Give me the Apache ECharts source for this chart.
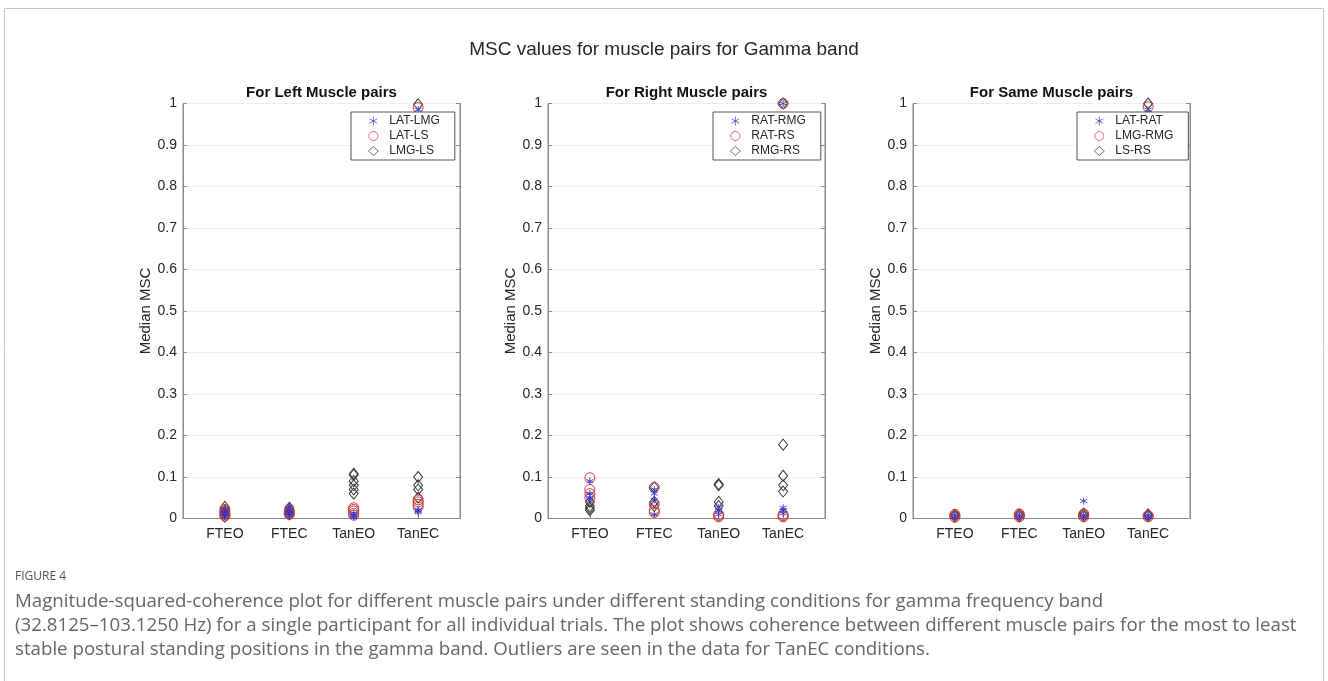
<!DOCTYPE html>
<html>
<head>
<meta charset="utf-8">
<script src="https://cdn.jsdelivr.net/npm/echarts@6/dist/echarts.min.js"></script>
<style>
html,body{margin:0;padding:0;background:#fff;}
#c{width:1328px;height:681px;}
</style>
</head>
<body>
<div id="c"></div>
<script>
// ---------------- DATA ----------------
const CATEGORIES = ['FTEO', 'FTEC', 'TanEO', 'TanEC'];
const Y_TICKS = [0, 0.1, 0.2, 0.3, 0.4, 0.5, 0.6, 0.7, 0.8, 0.9, 1];
const MAIN_TITLE = 'MSC values for muscle pairs for Gamma band';
const PANEL_TITLES = ['For Left Muscle pairs', 'For Right Muscle pairs', 'For Same Muscle pairs'];
const PANEL_SERIES_NAMES = [
  ['LAT-LMG', 'LAT-LS', 'LMG-LS'],
  ['RAT-RMG', 'RAT-RS', 'RMG-RS'],
  ['LAT-RAT', 'LMG-RMG', 'LS-RS']
];
// values per category (FTEO, FTEC, TanEO, TanEC), one list of trials each
const left_LAT_LMG = [[0.005, 0.01, 0.015, 0.02, 0.012], [0.008, 0.015, 0.02, 0.028, 0.012], [0.004, 0.008, 0.012, 0.006], [0.015, 0.02, 0.018, 0.985]];
const left_LAT_LS  = [[0.006, 0.012, 0.018, 0.022, 0.01], [0.01, 0.014, 0.018, 0.012], [0.012, 0.018, 0.022, 0.026, 0.008], [0.028, 0.034, 0.04, 0.045, 0.99]];
const left_LMG_LS  = [[0.004, 0.012, 0.02, 0.028, 0.016], [0.01, 0.016, 0.022, 0.026], [0.06, 0.07, 0.08, 0.09, 0.105, 0.108], [0.05, 0.07, 0.08, 0.1, 0.998]];

const right_RAT_RMG = [[0.045, 0.05, 0.06, 0.09], [0.01, 0.045, 0.06, 0.07], [0.01, 0.02, 0.026], [0.012, 0.02, 0.026, 1.0]];
const right_RAT_RS  = [[0.05, 0.06, 0.07, 0.098], [0.015, 0.02, 0.035, 0.075], [0.004, 0.007, 0.01], [0.004, 0.007, 0.01, 1.0]];
const right_RMG_RS  = [[0.02, 0.025, 0.03, 0.04], [0.03, 0.04, 0.075], [0.03, 0.04, 0.08, 0.083], [0.065, 0.08, 0.103, 0.178, 1.0]];

const same_LAT_RAT = [[0.004, 0.008], [0.004, 0.008], [0.004, 0.008, 0.042], [0.004, 0.008, 0.985]];
const same_LMG_RMG = [[0.003, 0.007, 0.01], [0.004, 0.008, 0.011], [0.004, 0.008, 0.011], [0.004, 0.007, 0.992]];
const same_LS_RS   = [[0.005, 0.009], [0.005, 0.01], [0.006, 0.012], [0.006, 0.01, 1.0]];

const CAPTION_LABEL = 'FIGURE 4';
const CAPTION_LINES = [
  'Magnitude-squared-coherence plot for different muscle pairs under different standing conditions for gamma frequency band',
  '(32.8125\u2013103.1250 Hz) for a single participant for all individual trials. The plot shows coherence between different muscle pairs for the most to least',
  'stable postural standing positions in the gamma band. Outliers are seen in the data for TanEC conditions.'
];
// ---------------- END DATA ----------------

const PANEL_DATA = [
  [left_LAT_LMG, left_LAT_LS, left_LMG_LS],
  [right_RAT_RMG, right_RAT_RS, right_RMG_RS],
  [same_LAT_RAT, same_LMG_RMG, same_LS_RS]
];

const STAR = 'path://M5,0L5,10M0.67,2.5L9.33,7.5M0.67,7.5L9.33,2.5';
const STYLES = [
  {symbol: STAR, size: 7, color: '#3434d2', z: 5, bw: 0.9},
  {symbol: 'circle', size: 10, color: '#c83a3a', z: 4, bw: 1},
  {symbol: 'diamond', size: [9, 11], color: '#3a3a3a', z: 3, bw: 1}
];
const FONT = 'Liberation Sans';
const TXT = '#262626';
const AXC = '#8a8a8a';

const GRID_LEFT = [183, 548, 913];
const GRID_W = 277, GRID_TOP = 103.5, GRID_H = 415;

function toPoints(perCat) {
  const pts = [];
  perCat.forEach((vals, ci) => vals.forEach(v => pts.push([ci + 1, v])));
  return pts;
}

const grid = [], xAxis = [], yAxis = [], series = [], legend = [];
const LEG_POS = [[351, 112], [713, 112], [1077, 112]];

for (let p = 0; p < 3; p++) {
  grid.push({left: GRID_LEFT[p], top: GRID_TOP, width: GRID_W, height: GRID_H,
    show: true, borderColor: AXC, borderWidth: 1, backgroundColor: '#fff'});
  xAxis.push({type: 'value', gridIndex: p, min: 0.35, max: 4.65,
    axisLine: {show: true, onZero: false, lineStyle: {color: AXC}},
    axisTick: {show: true, inside: true, length: 4, customValues: [1, 2, 3, 4], lineStyle: {color: AXC}},
    axisLabel: {customValues: [1, 2, 3, 4], formatter: v => CATEGORIES[Math.round(v) - 1],
      fontSize: 14, color: TXT, fontFamily: FONT, margin: 9},
    splitLine: {show: false}});
  yAxis.push({type: 'value', gridIndex: p, min: 0, max: 1, interval: 0.1,
    name: 'Median MSC', nameLocation: 'middle', nameGap: 30,
    nameTextStyle: {fontSize: 15, color: TXT, fontFamily: FONT},
    axisLine: {show: true, lineStyle: {color: AXC}},
    axisTick: {show: true, inside: true, length: 4, lineStyle: {color: AXC}},
    axisLabel: {fontSize: 14, color: TXT, fontFamily: FONT, margin: 6,
      formatter: v => String(parseFloat(v.toFixed(1)))},
    splitLine: {show: true, lineStyle: {color: '#ededed', width: 1}}});
  yAxis.push({type: 'value', gridIndex: p, position: 'right', min: 0, max: 1, interval: 0.1,
    axisLine: {show: true, lineStyle: {color: AXC}},
    axisTick: {show: true, inside: true, length: 4, lineStyle: {color: AXC}},
    axisLabel: {show: false}, splitLine: {show: false}});
  for (let s = 0; s < 3; s++) {
    const st = STYLES[s];
    series.push({type: 'scatter', name: PANEL_SERIES_NAMES[p][s], xAxisIndex: p, yAxisIndex: p * 2,
      data: toPoints(PANEL_DATA[p][s]), symbol: st.symbol, symbolSize: st.size, z: st.z,
      itemStyle: {color: 'rgba(0,0,0,0)', borderColor: st.color, borderWidth: st.bw, opacity: 1},
      emphasis: {disabled: true}, silent: true, clip: false});
  }
  legend.push({orient: 'vertical', left: LEG_POS[p][0], top: LEG_POS[p][1],
    data: PANEL_SERIES_NAMES[p], selectedMode: false,
    itemWidth: 10, itemHeight: 9, itemGap: 3, padding: [3, 15, 3, 17],
    itemStyle: {borderWidth: 0.7},
    borderColor: '#262626', borderWidth: 0.8, backgroundColor: '#fff',
    textStyle: {fontSize: 12, color: TXT, fontFamily: FONT, padding: [0, 0, 0, 6]}, z: 10});
}

const graphic = [
  {type: 'rect', shape: {x: 4.5, y: 8.5, width: 1319, height: 700}, style: {fill: 'none', stroke: '#c4c4c4', lineWidth: 1}, silent: true, z: -1},
  {type: 'text', x: 664, y: 50, style: {text: MAIN_TITLE, fill: TXT, font: '19px "Liberation Sans"', textAlign: 'center', textVerticalAlign: 'middle'}},
  {type: 'text', x: 15, y: 577, style: {text: CAPTION_LABEL, fill: '#555', font: '12px "Open Sans"', textAlign: 'left', textVerticalAlign: 'middle'}}
];
for (let p = 0; p < 3; p++) {
  graphic.push({type: 'text', x: GRID_LEFT[p] + GRID_W / 2, y: 93,
    style: {text: PANEL_TITLES[p], fill: '#111', font: 'bold 15px "Liberation Sans"', textAlign: 'center', textVerticalAlign: 'middle'}});
}
CAPTION_LINES.forEach((line, i) => {
  graphic.push({type: 'text', x: 15, y: 602 + i * 23.8,
    style: {text: line, fill: '#666', font: '18.7px "Open Sans"', textAlign: 'left', textVerticalAlign: 'middle'}});
});

const chart = echarts.init(document.getElementById('c'), null, {renderer: 'canvas'});
chart.setOption({animation: false, backgroundColor: '#fff', grid, xAxis, yAxis, series, legend, graphic});
</script>
</body>
</html>
